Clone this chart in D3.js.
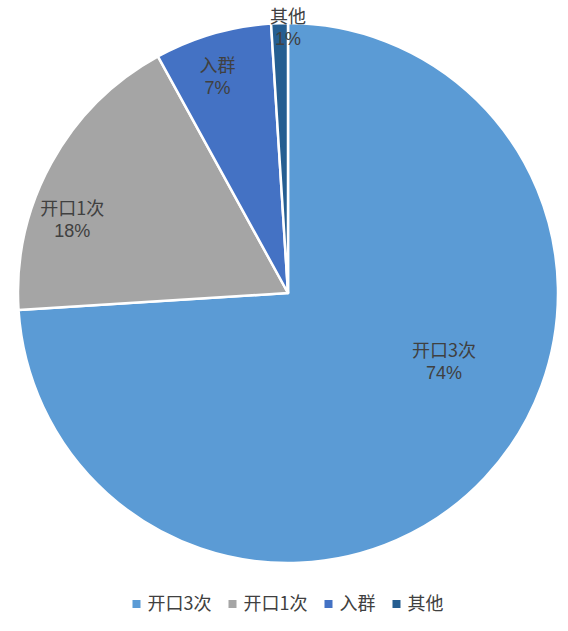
<!DOCTYPE html>
<html><head><meta charset="utf-8">
<script src="https://cdn.jsdelivr.net/npm/d3@7"></script>
<style>body{margin:0;background:#fff;}svg{display:block;}</style>
</head><body>
<svg id="c" width="568" height="631"></svg>
<script>
const categories = ["开口3次", "开口1次", "入群", "其他"];
const values = [74, 18, 7, 1];
const colors = ["#5B9BD5", "#A5A5A5", "#4472C4", "#255E91"];
// label placement (angle in degrees clockwise from top, radius fraction)
const labelAngles = [113.5, 289, 342, 360];
const labelRadii = [0.63, 0.845, 0.845, 0.985];

const svg = d3.select("#c");
const cx = 288, cy = 293, R = 270;
const font = "'Noto Sans CJK SC', 'Noto Sans', sans-serif";
const numFont = "'Liberation Sans', Arial, sans-serif";
const textColor = "#404040";
const fs = 18;

const data = categories.map((c, i) => ({name: c, value: values[i], i}));
const pie = d3.pie().value(d => d.value).sort(null);
const arc = d3.arc().innerRadius(0).outerRadius(R);
const arcs = pie(data);
const total = d3.sum(values);

const g = svg.append("g").attr("transform", `translate(${cx},${cy})`);
g.selectAll("path").data(arcs).join("path")
  .attr("d", arc)
  .attr("fill", d => colors[d.data.i])
  .attr("stroke", "#fff")
  .attr("stroke-width", 2.5)
  .attr("stroke-linejoin", "round");

const lab = g.selectAll("g.lab").data(arcs).join("g").attr("class", "lab")
  .attr("transform", d => {
    const a = labelAngles[d.data.i] * Math.PI / 180;
    const r = labelRadii[d.data.i] * R;
    return `translate(${r * Math.sin(a)},${-r * Math.cos(a)})`;
  });
lab.append("text").attr("text-anchor", "middle").attr("y", -4)
  .attr("font-family", font).attr("font-size", fs).attr("fill", textColor)
  .text(d => d.data.name);
lab.append("text").attr("text-anchor", "middle").attr("y", 18)
  .attr("font-family", numFont).attr("font-size", fs).attr("fill", textColor)
  .text(d => Math.round(d.data.value / total * 100) + "%");

// legend
const legend = svg.append("g").attr("transform", "translate(0,604)");
const items = legend.selectAll("g").data(data).join("g");
items.append("rect").attr("width", 8).attr("height", 8).attr("y", -4)
  .attr("fill", d => colors[d.i]);
items.append("text").attr("x", 15).attr("y", 0).attr("dy", "0.35em")
  .attr("font-family", font).attr("font-size", fs).attr("fill", textColor)
  .text(d => d.name);
const widths = [];
items.each(function() { widths.push(this.getBBox().width); });
const gap = 17;
const totalW = d3.sum(widths) + gap * (widths.length - 1);
let x = cx - totalW / 2;
items.attr("transform", (d, i) => {
  const t = `translate(${x},0)`;
  x += widths[i] + gap;
  return t;
});
</script>
</body></html>
